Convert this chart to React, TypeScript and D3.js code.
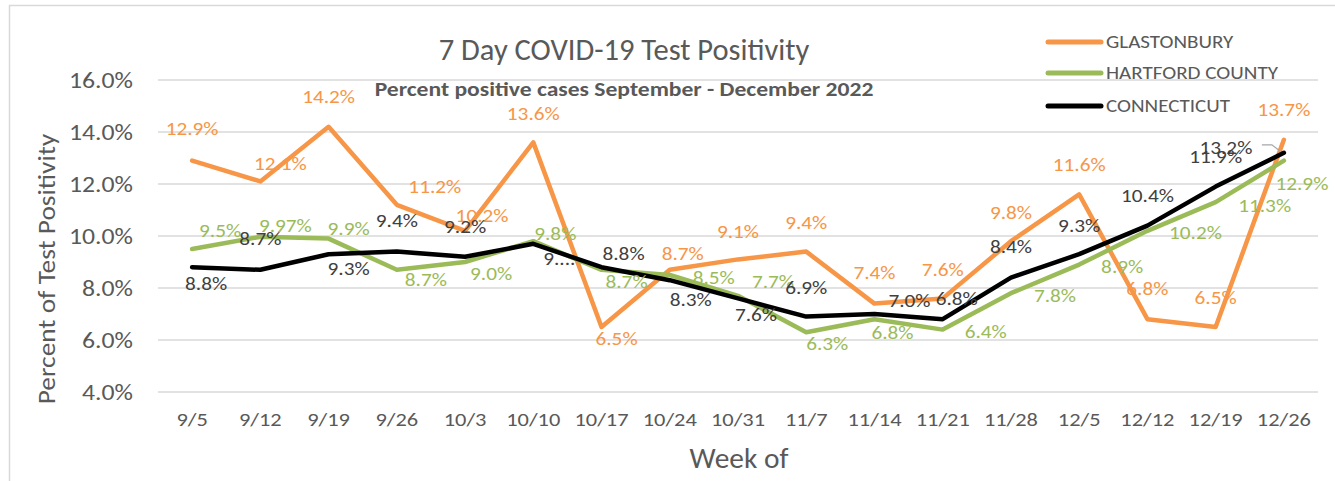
import React from "react";
import * as d3 from "d3";

// ---------- data ----------
const weeks = ["9/5", "9/12", "9/19", "9/26", "10/3", "10/10", "10/17", "10/24", "10/31", "11/7", "11/14", "11/21", "11/28", "12/5", "12/12", "12/19", "12/26"];
const glastonbury = [12.9, 12.1, 14.2, 11.2, 10.2, 13.6, 6.5, 8.7, 9.1, 9.4, 7.4, 7.6, 9.8, 11.6, 6.8, 6.5, 13.7];
const hartfordCounty = [9.5, 9.97, 9.9, 8.7, 9.0, 9.8, 8.7, 8.5, 7.7, 6.3, 6.8, 6.4, 7.8, 8.9, 10.2, 11.3, 12.9];
const connecticut = [8.8, 8.7, 9.3, 9.4, 9.2, 9.7, 8.8, 8.3, 7.6, 6.9, 7.0, 6.8, 8.4, 9.3, 10.4, 11.9, 13.2];
const yTicks = [4, 6, 8, 10, 12, 14, 16];
const seriesNames = ["GLASTONBURY", "HARTFORD COUNTY", "CONNECTICUT"];
const connecticutLabelOverride: Record<number, string> = { 5: "9...." };

// ---------- label placement (layout, px offsets from point) ----------
const glastonburyLabelOffsets = [[0, -32], [20, -18], [0, -30], [38, -18], [17, -15], [0, -29], [15, 11], [13, -16], [0, -28], [0, -29], [0, -31], [0, -29], [0, -29], [0, -30], [0, -31], [0, -30], [0, -30]];
const hartfordLabelOffsets = [[28, -19], [25, -11], [20, -10], [29, 10], [26, 11], [22, -8], [25, 12], [44, 2], [35, -14], [21, 11], [18, 13], [43, 2], [44, 2], [43, 2], [48, 2], [49, 3], [18, 23]];
const connecticutLabelOffsets = [[14, 16], [0, -31], [20, 14], [0, -31], [0, -30], [26, 15], [22, -14], [21, 19], [18, 16], [0, -29], [35, -14], [14, -21], [0, -31], [0, -29], [0, -30], [0, -30], [-58, -5]];

const W = 1335;
const H = 481;
const FONT = "Carlito, Calibri, Lato, 'Open Sans', sans-serif";
const TEXT = "#595959";
const GRID = "#D9D9D9";
const COLORS = ["#F79646", "#9BBB59", "#000000"];
const LABEL_COLORS = ["#F79646", "#9BBB59", "#404040"];

const fmt = (v: number) => {
  const t = v * 10;
  return (Math.abs(t - Math.round(t)) < 1e-6 ? v.toFixed(1) : v.toFixed(2)) + "%";
};

type TProps = {
  x: number;
  y: number;
  sx?: number;
  rotate?: number;
  children: React.ReactNode;
  [k: string]: any;
};

function T({ x, y, sx = 1, rotate, children, ...rest }: TProps) {
  const tr = `translate(${x},${y})${rotate ? ` rotate(${rotate})` : ""} scale(${sx},1)`;
  return (
    <text transform={tr} dominantBaseline="central" {...rest}>
      {children}
    </text>
  );
}

export default function App() {
  const plotLeft = 158;
  const plotRight = 1318;
  const x = d3.scalePoint<string>().domain(weeks).range([plotLeft, plotRight]).padding(0.5);
  const y = d3.scaleLinear().domain([4, 16]).range([392, 80]);

  const line = d3
    .line<number>()
    .x((_, i) => x(weeks[i]) as number)
    .y((d) => y(d));

  const series = [glastonbury, hartfordCounty, connecticut];
  const offsets = [glastonburyLabelOffsets, hartfordLabelOffsets, connecticutLabelOffsets];

  const lastIdx = connecticut.length - 1;
  const ctLastX = x(weeks[lastIdx]) as number;
  const ctLastY = y(connecticut[lastIdx]);

  return (
    <svg
      width={W}
      height={H}
      style={{ position: "absolute", left: 0, top: 0, background: "#fff" }}
      fontFamily={FONT}
    >
      <rect x={0} y={0} width={W} height={H} fill="#fff" />
      <rect x={9.5} y={5.5} width={W + 20} height={H + 20} fill="none" stroke="#D9D9D9" strokeWidth={1.5} />

      {/* gridlines */}
      {yTicks.map((t) => (
        <line key={t} x1={plotLeft} x2={plotRight} y1={y(t)} y2={y(t)} stroke={GRID} strokeWidth={1.5} />
      ))}

      {/* y tick labels */}
      {yTicks.map((t) => (
        <T key={t} x={133} y={y(t)} sx={1.12} textAnchor="end" fontSize={23} fill={TEXT}>
          {t.toFixed(1) + "%"}
        </T>
      ))}

      {/* x tick labels */}
      {weeks.map((w) => (
        <T key={w} x={x(w) as number} y={420} sx={1.18} textAnchor="middle" fontSize={19} fill={TEXT}>
          {w}
        </T>
      ))}

      {/* title & subtitle */}
      <T x={624} y={49} textAnchor="middle" fontSize={30.5} fill={TEXT}>
        7 Day COVID-19 Test Positivity
      </T>
      <T x={624} y={89} sx={1.18} textAnchor="middle" fontSize={20} fontWeight="bold" fill={TEXT}>
        Percent positive cases September - December 2022
      </T>

      {/* axis titles */}
      <T x={47} y={269} rotate={-90} sx={1.14} textAnchor="middle" fontSize={24} fill={TEXT}>
        Percent of Test Positivity
      </T>
      <T x={739} y={459} sx={1.05} textAnchor="middle" fontSize={28} fill={TEXT}>
        Week of
      </T>

      {/* lines */}
      {series.map((s, k) => (
        <path
          key={k}
          d={line(s) as string}
          fill="none"
          stroke={COLORS[k]}
          strokeWidth={4.5}
          strokeLinejoin="round"
          strokeLinecap="round"
        />
      ))}

      {/* leader line */}
      <polyline
        points={`${ctLastX - 22},${ctLastY - 8} ${ctLastX - 12},${ctLastY - 8} ${ctLastX - 3},${ctLastY - 1}`}
        fill="none"
        stroke="#A6A6A6"
        strokeWidth={1.2}
      />

      {/* data labels */}
      {series.map((s, k) =>
        s.map((v, i) => {
          const px = x(weeks[i]) as number;
          const py = y(v);
          const [dx, dy] = offsets[k][i];
          const label = k === 2 && connecticutLabelOverride[i] ? connecticutLabelOverride[i] : fmt(v);
          return (
            <T
              key={`${k}-${i}`}
              x={px + dx}
              y={py + dy}
              sx={1.12}
              textAnchor="middle"
              fontSize={19}
              fill={LABEL_COLORS[k]}
            >
              {label}
            </T>
          );
        })
      )}

      {/* legend */}
      {seriesNames.map((name, k) => {
        const ly = [42, 73, 106][k];
        return (
          <g key={name}>
            <line x1={1048} x2={1101} y1={ly} y2={ly} stroke={COLORS[k]} strokeWidth={5} strokeLinecap="round" />
            <T x={1106} y={ly} sx={1.17} fontSize={18} fill={TEXT}>
              {name}
            </T>
          </g>
        );
      })}
    </svg>
  );
}
